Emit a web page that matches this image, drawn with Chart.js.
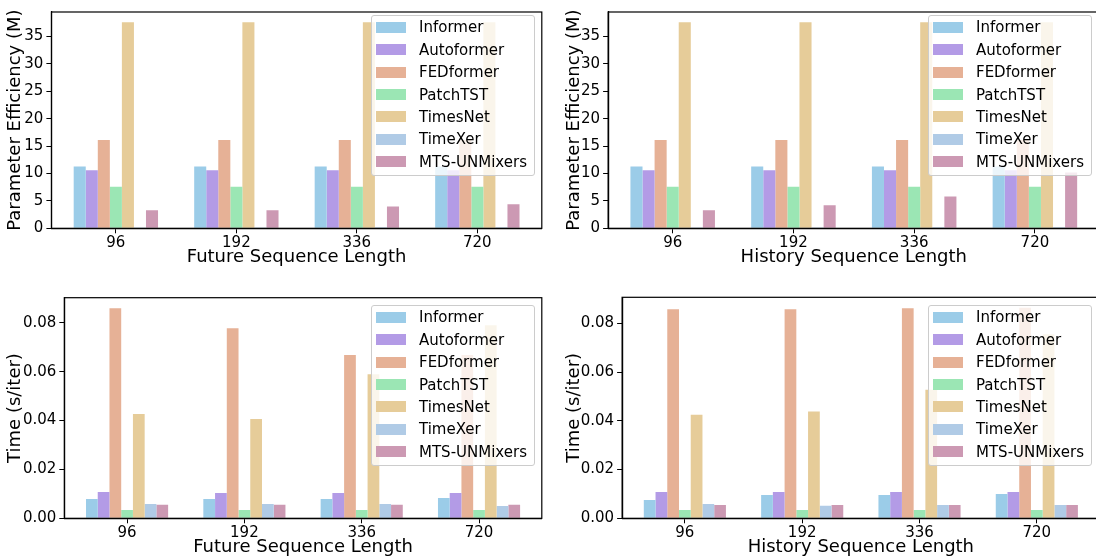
<!DOCTYPE html>
<html>
<head>
<meta charset="utf-8">
<script src="https://cdn.jsdelivr.net/npm/chart.js@4.4.0/dist/chart.umd.min.js"></script>
<style>
  html, body { margin: 0; padding: 0; background: #fff; overflow: hidden; }
  body { width: 1096px; height: 559px; position: relative; font-family: 'DejaVu Sans', sans-serif; }
  canvas { position: absolute; }
  .legend {
    position: absolute; width: 164px; height: 161px; box-sizing: border-box;
    background: rgba(255, 255, 255, 0.8); border: 1px solid #cccccc; border-radius: 3px;
    font-size: 15px; color: #000; z-index: 5;
  }
  .legend .row { position: absolute; left: 0; height: 22px; display: flex; align-items: center; white-space: nowrap; }
  .legend .sw { width: 30px; height: 11px; margin-left: 4px; margin-right: 13px; }
</style>
</head>
<body>
<canvas id="c1" width="548" height="280" style="left:0;top:0"></canvas>
<canvas id="c2" width="560" height="280" style="left:548px;top:0"></canvas>
<canvas id="c3" width="548" height="279" style="left:0;top:280px"></canvas>
<canvas id="c4" width="560" height="279" style="left:548px;top:280px"></canvas>

<div class="legend" id="lg1" style="left:371px;top:15px"></div>
<div class="legend" id="lg2" style="left:928px;top:15px"></div>
<div class="legend" id="lg3" style="left:371px;top:305px"></div>
<div class="legend" id="lg4" style="left:928px;top:305px"></div>

<script>
// modelos e cores
const models = ['Informer', 'Autoformer', 'FEDformer', 'PatchTST', 'TimesNet', 'TimeXer', 'MTS-UNMixers'];
const colors = ['#9bcce8', '#b39be6', '#e6b196', '#9be6b4', '#e6cc99', '#b0cbe6', '#cc99b3'];
const seqLabels = ['96', '192', '336', '720'];

const paramTicks = [0, 5, 10, 15, 20, 25, 30, 35];
const timeTicks = [0, 0.02, 0.04, 0.06, 0.08];

// Parameter Efficiency (M) x Future Sequence Length (uma linha por modelo)
const paramFuture = [
  [11.3, 11.3, 11.3, 11.3],
  [10.6, 10.6, 10.6, 10.6],
  [16.1, 16.1, 16.1, 16.1],
  [7.6, 7.6, 7.6, 7.6],
  [37.6, 37.6, 37.6, 37.6],
  [0.03, 0.03, 0.2, 0.2],
  [3.3, 3.3, 4.0, 4.4]
];

// Parameter Efficiency (M) x History Sequence Length
const paramHistory = [
  [11.3, 11.3, 11.3, 11.3],
  [10.6, 10.6, 10.6, 10.6],
  [16.1, 16.1, 16.1, 16.1],
  [7.6, 7.6, 7.6, 7.6],
  [37.6, 37.6, 37.6, 37.6],
  [0.03, 0.03, 0.2, 0.2],
  [3.3, 4.2, 5.8, 10.2]
];

// Time (s/iter) x Future Sequence Length
const timeFuture = [
  [0.0079, 0.0079, 0.0079, 0.0083],
  [0.0108, 0.0104, 0.0104, 0.0104],
  [0.0860, 0.0778, 0.0668, 0.0668],
  [0.0034, 0.0034, 0.0034, 0.0034],
  [0.0427, 0.0406, 0.0590, 0.0790],
  [0.0059, 0.0059, 0.0059, 0.0050],
  [0.0055, 0.0055, 0.0055, 0.0055]
];

// Time (s/iter) x History Sequence Length
const timeHistory = [
  [0.0075, 0.0096, 0.0096, 0.0100],
  [0.0108, 0.0108, 0.0108, 0.0108],
  [0.0858, 0.0858, 0.0862, 0.0864],
  [0.0034, 0.0034, 0.0034, 0.0034],
  [0.0425, 0.0438, 0.0528, 0.0755],
  [0.0059, 0.0051, 0.0055, 0.0055],
  [0.0055, 0.0055, 0.0055, 0.0055]
];

const FONT = "'DejaVu Sans', sans-serif";

// desenha as 4 bordas do eixo (estilo matplotlib)
const framePlugin = {
  id: 'frame',
  afterDatasetsDraw(chart) {
    const a = chart.chartArea;
    const ctx = chart.ctx;
    ctx.save();
    ctx.strokeStyle = '#000';
    ctx.lineWidth = 1.2;
    ctx.strokeRect(a.left, a.top, a.right - a.left, a.bottom - a.top);
    ctx.restore();
  }
};

function makePanel(id, cfg) {
  const datasets = models.map((m, k) => ({
    label: m,
    data: cfg.values[k].map((v, i) => ({ x: i, y: v })),
    backgroundColor: colors[k],
    borderWidth: 0,
    categoryPercentage: 0.7,
    barPercentage: 1.0
  }));

  new Chart(document.getElementById(id), {
    type: 'bar',
    data: { datasets: datasets },
    options: {
      responsive: false,
      animation: false,
      devicePixelRatio: 1,
      layout: { padding: { left: 0, right: cfg.padRight, top: cfg.padTop, bottom: 0 } },
      plugins: { legend: { display: false }, tooltip: { enabled: false } },
      scales: {
        x: {
          type: 'linear',
          min: -0.535,
          max: 3.535,
          offset: false,
          afterBuildTicks: s => { s.ticks = seqLabels.map((_, i) => ({ value: i })); },
          afterFit: s => { s.height = cfg.xHeight; },
          ticks: {
            callback: v => seqLabels[v],
            font: { family: FONT, size: 15 },
            color: '#000',
            padding: 1,
            maxRotation: 0,
            autoSkip: false
          },
          grid: { offset: false, drawOnChartArea: false, drawTicks: true, tickLength: 5, color: '#000', lineWidth: 1 },
          border: { display: true, color: '#000', width: 1.2 },
          title: {
            display: true,
            text: cfg.xTitle,
            font: { family: FONT, size: 18 },
            color: '#000',
            padding: { top: 0, bottom: cfg.xTitlePad }
          }
        },
        y: {
          min: 0,
          max: cfg.yMax,
          afterBuildTicks: s => { s.ticks = cfg.yTicks.map(v => ({ value: v })); },
          afterFit: s => { s.width = cfg.yWidth; },
          ticks: {
            callback: cfg.fmt,
            font: { family: FONT, size: 15 },
            color: '#000',
            padding: 3
          },
          grid: { drawOnChartArea: false, drawTicks: true, tickLength: 5, color: '#000', lineWidth: 1 },
          border: { display: true, color: '#000', width: 1.2 },
          title: {
            display: true,
            text: cfg.yTitle,
            font: { family: FONT, size: 18 },
            color: '#000',
            padding: { top: cfg.yTitlePad, bottom: 0 }
          }
        }
      }
    },
    plugins: [framePlugin]
  });
}

function makeLegend(id) {
  const box = document.getElementById(id);
  box.innerHTML = models.map((m, k) => `
    <div class="row" style="top:${0.3 + k * 22.4}px">
      <span class="sw" style="background:${colors[k]}"></span><span>${m}</span>
    </div>`).join('');
}

const fmtParam = v => String(v);
const fmtTime = v => v.toFixed(2);

makePanel('c1', {
  values: paramFuture, yMax: 39.48, yTicks: paramTicks, fmt: fmtParam,
  xTitle: 'Future Sequence Length', yTitle: 'Parameter Efficiency (M)',
  yWidth: 51.4, padRight: 6.2, padTop: 7.3, xHeight: 51.7, xTitlePad: 12.2, yTitlePad: 4.9
});
makePanel('c2', {
  values: paramHistory, yMax: 39.48, yTicks: paramTicks, fmt: fmtParam,
  xTitle: 'History Sequence Length', yTitle: 'Parameter Efficiency (M)',
  yWidth: 60.1, padRight: 8.5, padTop: 7.3, xHeight: 51.7, xTitlePad: 12.2, yTitlePad: 15.2
});
makePanel('c3', {
  values: timeFuture, yMax: 0.0903, yTicks: timeTicks, fmt: fmtTime,
  xTitle: 'Future Sequence Length', yTitle: 'Time (s/iter)',
  yWidth: 64.3, padRight: 6.2, padTop: 17.7, xHeight: 40.7, xTitlePad: 1.2, yTitlePad: 4.9
});
makePanel('c4', {
  values: timeHistory, yMax: 0.0907, yTicks: timeTicks, fmt: fmtTime,
  xTitle: 'History Sequence Length', yTitle: 'Time (s/iter)',
  yWidth: 74.1, padRight: 8.4, padTop: 17.3, xHeight: 40.7, xTitlePad: 1.2, yTitlePad: 15.2
});

['lg1', 'lg2', 'lg3', 'lg4'].forEach(makeLegend);
</script>
</body>
</html>
